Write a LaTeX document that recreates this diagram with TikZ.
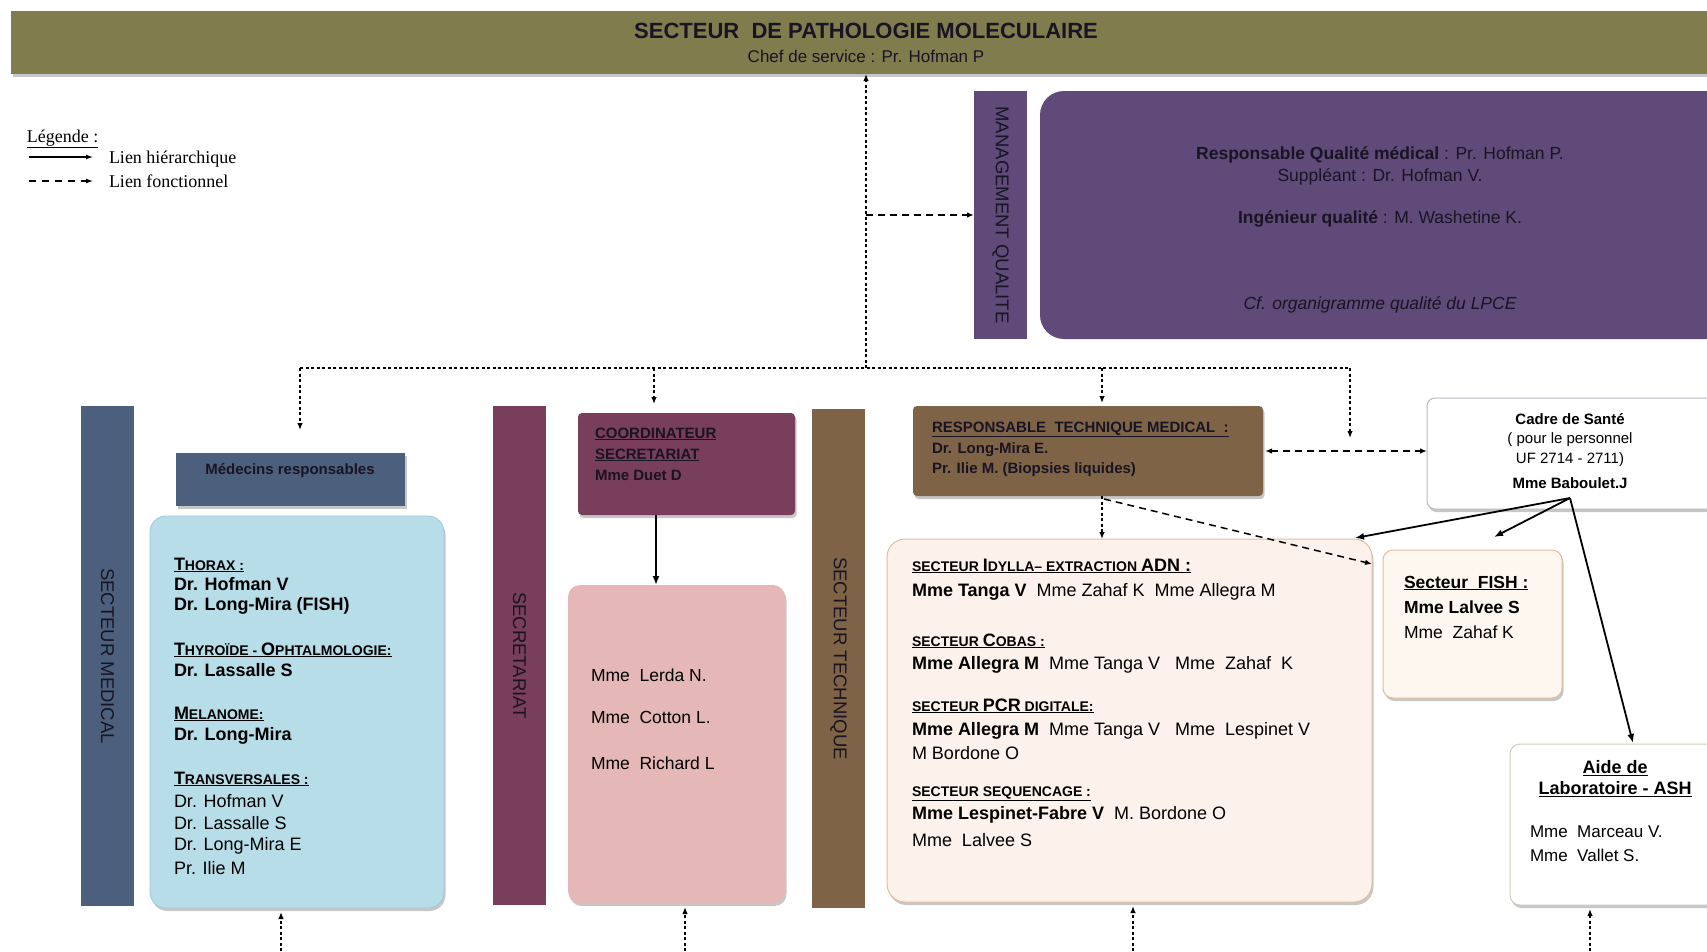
\documentclass[tikz,border=0pt]{standalone}
\usepackage{fontspec}
\setmainfont{Liberation Sans}
\newfontfamily\tnr{Liberation Serif}
\usetikzlibrary{arrows.meta,shadows}
\definecolor{cBanner}{RGB}{128,124,78}
\definecolor{cPurple}{RGB}{95,74,122}
\definecolor{cSlate}{RGB}{76,96,126}
\definecolor{cBlue}{RGB}{183,221,232}
\definecolor{cBlueB}{RGB}{160,200,215}
\definecolor{cPlum}{RGB}{121,62,92}
\definecolor{cPink}{RGB}{229,184,183}
\definecolor{cBrown}{RGB}{127,99,71}
\definecolor{cPeach}{RGB}{253,242,235}
\definecolor{cPeachB}{RGB}{222,190,160}
\definecolor{cFish}{RGB}{254,247,240}
\definecolor{cAideB}{RGB}{205,205,190}
\definecolor{cCadreB}{RGB}{185,185,195}
\definecolor{cDark}{RGB}{25,20,35}
\newcommand\fz[1]{\fontsize{#1}{#1}\selectfont}
\newcommand\Hs[1]{{\fontsize{14}{14}\selectfont #1}}
\begin{document}
\begin{tikzpicture}[x=1pt,y=-1pt,
  every node/.style={inner sep=0pt,outer sep=0pt},
  box/.style={draw=none,inner sep=0pt,outer sep=0pt},
  shad/.style={drop shadow={shadow xshift=1.5pt,shadow yshift=-3pt,fill=black,opacity=0.22}},
  vlab/.style={rotate=-90,font=\fz{18.5},text=cDark},
  tl/.style={anchor=base west,yshift=-6pt},
  hier/.style={line width=1.8pt,-{Latex[length=9pt,width=7pt]}},
  fnf/.style={line width=1.3pt,dash pattern=on 3pt off 2.5pt,-{Latex[length=7pt,width=5.5pt]}},
  fnfl/.style={line width=1.3pt,dash pattern=on 3pt off 2.5pt},
  fnc/.style={line width=1.5pt,dash pattern=on 7pt off 5pt,-{Latex[length=7pt,width=5.5pt]}},
]
\useasboundingbox (0,0) rectangle (1707,951);
\clip (0,0) rectangle (1707,951);
\fill[white] (0,0) rectangle (1707,951);

% ---------- banner ----------
\node[box,shad,fill=cBanner,minimum width=1720pt,minimum height=63pt] (banner) at (871,42.5) {};
\node[font=\bfseries\fz{22},text=cDark] (title) at (866,31) {SECTEUR\ \ DE PATHOLOGIE MOLECULAIRE};
\node[font=\fz{17},text=cDark] (chef) at (866,56) {Chef de service : Pr. Hofman P};

% ---------- legend ----------
\node[tl,font=\tnr\fz{18}] (leg) at (27,136) {\underline{Légende :}};
\coordinate (l1a) at (29,157); \coordinate (l1b) at (93,157);
\coordinate (l2a) at (29,181); \coordinate (l2b) at (93,181);
\draw[line width=1.3pt,-{Latex[length=7pt,width=5pt]}] (l1a) -- (l1b);
\draw[line width=1.3pt,dash pattern=on 7pt off 6pt,-{Latex[length=7pt,width=5pt]}] (l2a) -- (l2b);
\node[tl,font=\tnr\fz{18}] (leg1) at (109,157) {Lien hiérarchique};
\node[tl,font=\tnr\fz{18}] (leg2) at (109,181) {Lien fonctionnel};

% ---------- management qualite ----------
\node[box,fill=cPurple,minimum width=53pt,minimum height=248pt] (mqbar) at (1000.5,215) {};
\node[vlab] (mqlab) at (mqbar) {MANAGEMENT QUALITE};
\node[box,fill=cPurple,rounded corners=24pt,minimum width=720pt,minimum height=248pt] (mqbox) at (1400,215) {};
\node[font=\fz{17.5},text=cDark] (rq) at (1380,155) {\textbf{Responsable Qualité médical} : Pr. Hofman P.};
\node[font=\fz{17.5},text=cDark] (sup) at (1380,177) {Suppléant : Dr. Hofman V.};
\node[font=\fz{17.5},text=cDark] (ing) at (1380,219) {\textbf{Ingénieur qualité} : M. Washetine K.};
\node[font=\itshape\fz{17.5},text=cDark] (cf) at (1380,305) {Cf. organigramme qualité du LPCE};

% ---------- hub connectors ----------
\coordinate (hub) at (866,368);
\coordinate (hl) at (300,368);
\coordinate (hs) at (654,368);
\coordinate (ht) at (1102,368);
\coordinate (hr) at (1350,368);
\coordinate (medtip) at (300,430);
\coordinate (cdtip) at (1350,438);
\draw[fnf] (hub) -- (hub |- banner.south);
\draw[fnc] (hub |- mqbar.west) -- (mqbar.west);
\draw[fnfl] (hl) -- (hr);
\draw[fnf] (hl) -- (medtip);

% ---------- secteur medical ----------
\node[box,fill=cSlate,minimum width=53pt,minimum height=500pt] (medbar) at (107.5,656) {};
\node[vlab] (medlab) at (medbar) {SECTEUR MEDICAL};
\node[box,shad,fill=cSlate,minimum width=229pt,minimum height=53pt] (medresp) at (290.5,479.5) {};
\node[font=\bfseries\fz{15},text=cDark] (medresplab) at (290,471) {Médecins responsables};
\node[box,shad,fill=cBlue,draw=cBlueB,line width=0.8pt,rounded corners=16pt,minimum width=294pt,minimum height=392pt] (bluebox) at (297,712) {};
\begin{scope}[every node/.append style={tl,font=\fz{18}}]
\node[font=\bfseries\fz{18}] (m1) at (174,564) {\underline{T\Hs{HORAX :}}};
\node[font=\bfseries\fz{18}] (m2) at (174,584) {Dr. Hofman V};
\node[font=\bfseries\fz{18}] (m3) at (174,604) {Dr. Long-Mira (FISH)};
\node[font=\bfseries\fz{18}] (m4) at (174,649) {\underline{T\Hs{HYROÏDE - }O\Hs{PHTALMOLOGIE:}}};
\node[font=\bfseries\fz{18}] (m5) at (174,670) {Dr. Lassalle S};
\node[font=\bfseries\fz{18}] (m6) at (174,713) {\underline{M\Hs{ELANOME:}}};
\node[font=\bfseries\fz{18}] (m7) at (174,734) {Dr. Long-Mira};
\node[font=\bfseries\fz{18}] (m8) at (174,778) {\underline{T\Hs{RANSVERSALES :}}};
\node (m9) at (174,801) {Dr. Hofman V};
\node (m10) at (174,823) {Dr. Lassalle S};
\node (m11) at (174,844) {Dr. Long-Mira E};
\node (m12) at (174,868) {Pr. Ilie M};
\end{scope}

% ---------- secretariat ----------
\node[box,fill=cPlum,minimum width=53pt,minimum height=499pt] (secbar) at (519.5,655.5) {};
\node[vlab] (seclab) at (secbar) {SECRETARIAT};
\node[box,shad,fill=cPlum,rounded corners=4pt,minimum width=217pt,minimum height=102pt] (coord) at (686.5,464) {};
\begin{scope}[every node/.append style={tl,font=\bfseries\fz{15},text=cDark}]
\node (c1) at (595,432) {\underline{COORDINATEUR}};
\node (c2) at (595,453) {\underline{SECRETARIAT}};
\node (c3) at (595,474) {Mme Duet D};
\end{scope}
\node[box,shad,fill=cPink,rounded corners=12pt,minimum width=217pt,minimum height=318pt] (pink) at (676.5,744) {};
\begin{scope}[every node/.append style={tl,font=\fz{17.5}}]
\node (p1) at (591,675) {Mme\ \ Lerda N.};
\node (p2) at (591,717) {Mme\ \ Cotton L.};
\node (p3) at (591,763) {Mme\ \ Richard L};
\end{scope}
\draw[hier] (coord.south -| 656,0) -- (pink.north -| 656,0);
\draw[fnf,shorten >=9pt] (hs) -- (hs |- coord.north);

% ---------- secteur technique ----------
\node[box,fill=cBrown,minimum width=53pt,minimum height=499pt] (techbar) at (838.5,658.5) {};
\node[vlab] (techlab) at (techbar) {SECTEUR TECHNIQUE};
\node[box,shad,fill=cBrown,rounded corners=4pt,minimum width=350pt,minimum height=90pt] (rtm) at (1088,451) {};
\begin{scope}[every node/.append style={tl,font=\bfseries\fz{15},text=cDark}]
\node (r1) at (932,426) {\underline{RESPONSABLE\ \ TECHNIQUE MEDICAL\ \ :}};
\node (r2) at (932,447) {Dr. Long-Mira E.};
\node (r3) at (932,467) {Pr. Ilie M. (Biopsies liquides)};
\end{scope}
\draw[fnf,shorten >=3pt] (ht) -- (ht |- rtm.north);

\node[box,shad,fill=cPeach,draw=cPeachB,line width=1pt,rounded corners=18pt,minimum width=485pt,minimum height=363pt] (sectech) at (1129.5,720.5) {};
\begin{scope}[every node/.append style={tl,font=\fz{18}}]
\node[font=\bfseries\fz{18}] (s1) at (912,565) {\underline{\Hs{SECTEUR }I\Hs{DYLLA– EXTRACTION }ADN :}};
\node (s2) at (912,590) {\textbf{Mme Tanga V}\ \ Mme Zahaf K\ \ Mme Allegra M};
\node[font=\bfseries\fz{18}] (s3) at (912,640) {\underline{\Hs{SECTEUR }C\Hs{OBAS :}}};
\node (s4) at (912,663) {\textbf{Mme Allegra M}\ \ Mme Tanga V\ \ \ Mme\ \ Zahaf\ \ K};
\node[font=\bfseries\fz{18}] (s5) at (912,705) {\underline{\Hs{SECTEUR }PCR\Hs{ DIGITALE:}}};
\node (s6) at (912,729) {\textbf{Mme Allegra M}\ \ Mme Tanga V\ \ \ Mme\ \ Lespinet V};
\node (s7) at (912,753) {M Bordone O};
\node[font=\bfseries\fz{18}] (s8) at (912,790) {\underline{\Hs{SECTEUR SEQUENCAGE :}}};
\node (s9) at (912,813) {\textbf{Mme Lespinet-Fabre V}\ \ M. Bordone O};
\node (s10) at (912,840) {Mme\ \ Lalvee S};
\end{scope}
\draw[fnf] (ht |- rtm.south) -- (ht |- sectech.north);

% ---------- cadre de sante ----------
\node[box,shad,fill=white,draw=cCadreB,line width=1pt,rounded corners=8pt,minimum width=300pt,minimum height=111pt] (cadre) at (1577,453.5) {};
\begin{scope}[every node/.append style={font=\fz{15}}]
\node[font=\bfseries\fz{15}] (k1) at (1570,419) {Cadre de Santé};
\node (k2) at (1570,440) {( pour le personnel};
\node (k3) at (1570,460) {UF 2714 - 2711)};
\node[font=\bfseries\fz{15}] (k4) at (1570,483) {Mme Baboulet.J};
\end{scope}
\draw[fnf] (hr) -- (cdtip);
\draw[fnc,{Latex[length=7pt,width=5.5pt]}-{Latex[length=7pt,width=5.5pt]}] (rtm.east) ++(2,0) coordinate (rtme) (rtme) -- (rtme -| cadre.west);

% ---------- FISH ----------
\node[box,shad,fill=cFish,draw=cPeachB,line width=1pt,rounded corners=10pt,minimum width=179pt,minimum height=148pt] (fish) at (1472.5,624) {};
\begin{scope}[every node/.append style={tl,font=\fz{17.5}}]
\node[font=\bfseries\fz{17.5}] (f1) at (1404,582) {\underline{Secteur\ \ FISH :}};
\node[font=\bfseries\fz{17.5}] (f2) at (1404,607) {Mme Lalvee S};
\node (f3) at (1404,632) {Mme\ \ Zahaf K};
\end{scope}
\coordinate (rtmb) at (1104,499);
\coordinate (fishdash) at (1372,564);
\draw[fnc] (rtmb) -- (fishdash);

% ---------- aide de laboratoire ----------
\node[box,shad,fill=white,draw=cAideB,line width=1pt,rounded corners=10pt,minimum width=220pt,minimum height=161pt] (aide) at (1620,824.5) {};
\node[font=\bfseries\fz{18}] (a1) at (1615,768) {\underline{Aide de}};
\node[font=\bfseries\fz{18}] (a2) at (1615,789) {\underline{Laboratoire - ASH}};
\node[tl,font=\fz{17}] (a3) at (1530,831) {Mme\ \ Marceau V.};
\node[tl,font=\fz{17}] (a4) at (1530,855) {Mme\ \ Vallet S.};

% ---------- hierarchical arrows from cadre ----------
\coordinate (cpt) at (1570,498);
\coordinate (sectip) at (1355,538);
\coordinate (fishtip) at (1494,537);
\coordinate (aidetip) at (1633,743);
\draw[hier] (cpt) -- (sectip);
\draw[hier] (cpt) -- (fishtip);
\draw[hier] (cpt) -- (aidetip);

% ---------- bottom functional arrows ----------
\coordinate (b1) at (281,951);
\coordinate (b2) at (685,951);
\coordinate (b3) at (1133,951);
\coordinate (b4) at (1590,951);
\draw[fnf,shorten >=4pt] (b1) -- (b1 |- bluebox.south);
\draw[fnf,shorten >=4pt] (b2) -- (b2 |- pink.south);
\draw[fnf,shorten >=4pt] (b3) -- (b3 |- sectech.south);
\draw[fnf,shorten >=4pt] (b4) -- (b4 |- aide.south);
\end{tikzpicture}
\end{document}
